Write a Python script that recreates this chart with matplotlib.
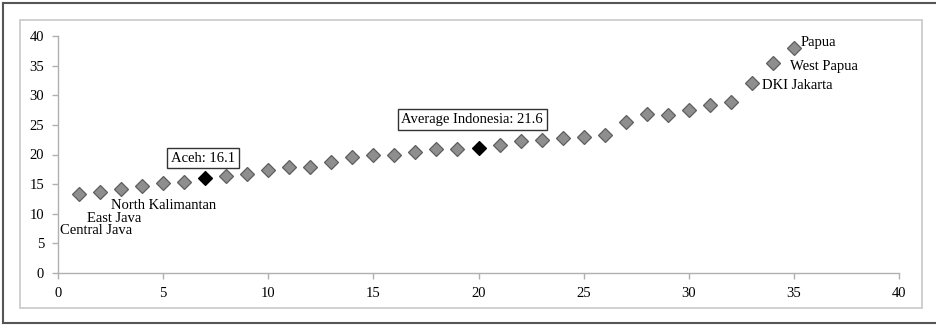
import matplotlib
matplotlib.use("Agg")
import matplotlib.pyplot as plt
from matplotlib.lines import Line2D
from matplotlib.patches import Rectangle

# ------------------------------------------------------------
# data
# ------------------------------------------------------------
rank = list(range(1, 36))
value = [13.3, 13.7, 14.1, 14.6, 15.2, 15.4, 16.1, 16.4, 16.7, 17.4,
         17.9, 17.9, 18.8, 19.5, 19.9, 19.9, 20.5, 20.9, 21.0, 21.1,
         21.6, 22.3, 22.4, 22.8, 23.0, 23.3, 25.5, 26.8, 26.7, 27.5,
         28.4, 28.9, 32.0, 35.5, 37.9]
highlight = [7, 20]  # Aceh, average Indonesia

box_labels = ["Aceh: 16.1", "Average Indonesia: 21.6"]
box_pos = [(6.9, 19.4), (19.7, 25.9)]

plain_labels = ["Papua", "West Papua", "DKI Jakarta",
                "North Kalimantan", "East Java", "Central Java"]
plain_pos = [(35.3, 38.9), (34.8, 34.9), (33.5, 31.6),
             (2.5, 11.4), (1.4, 9.2), (0.1, 7.1)]

xticks = list(range(0, 41, 5))
yticks = list(range(0, 41, 5))

serif = "Liberation Serif"

# ------------------------------------------------------------
# figure
# ------------------------------------------------------------
fig = plt.figure(figsize=(9.37, 3.25), dpi=100)
W, H = 937, 325

# outer dark frame (left, top, bottom visible)
for xs, ys in [([3, 3], [3, 323]), ([3, W], [3, 3]), ([3, W], [323, 323])]:
    fig.add_artist(Line2D([x / W for x in xs], [1 - y / H for y in ys],
                          color="#555555", lw=1.5, transform=fig.transFigure))

# inner light chart frame
fig.add_artist(Rectangle((20 / W, 1 - 308 / H), (922 - 20) / W, (308 - 20) / H,
                         transform=fig.transFigure, fill=False,
                         edgecolor="#c8c8c8", lw=1.2))

ax = fig.add_axes([58 / W, 1 - 273 / H, (899 - 58) / W, (273 - 36) / H])

normal = [(r, v) for r, v in zip(rank, value) if r not in highlight]
special = [(r, v) for r, v in zip(rank, value) if r in highlight]

ax.plot([p[0] for p in normal], [p[1] for p in normal], linestyle="none",
        marker="D", markersize=7.5, markerfacecolor="#8e8e8e",
        markeredgecolor="#5e5e5e", markeredgewidth=0.9)
ax.plot([p[0] for p in special], [p[1] for p in special], linestyle="none",
        marker="D", markersize=7.5, markerfacecolor="black",
        markeredgecolor="black", markeredgewidth=0.9)

for txt, (x, y) in zip(box_labels, box_pos):
    ax.text(x, y, txt, ha="center", va="center", fontsize=10.5,
            family=serif, color="black",
            bbox=dict(boxstyle="square,pad=0.25", facecolor="white",
                      edgecolor="#333333", lw=1))

for txt, (x, y) in zip(plain_labels, plain_pos):
    ax.text(x, y, txt, ha="left", va="center", fontsize=10.5,
            family=serif, color="black")

ax.set_xlim(0, 40)
ax.set_ylim(0, 40)
ax.set_xticks(xticks)
ax.set_yticks(yticks)
ax.set_xticklabels([str(t) for t in xticks], family=serif, fontsize=10.5)
ax.set_yticklabels([str(t) for t in yticks], family=serif, fontsize=10.5)

for side in ["top", "right"]:
    ax.spines[side].set_visible(False)
for side in ["left", "bottom"]:
    ax.spines[side].set_color("#b0b0b0")
    ax.spines[side].set_linewidth(1)
ax.tick_params(axis="both", direction="out", length=4, width=1,
               color="#b0b0b0", labelcolor="black")
ax.tick_params(axis="x", pad=6)
ax.tick_params(axis="y", pad=6)

fig.savefig("out.png", dpi=100)
